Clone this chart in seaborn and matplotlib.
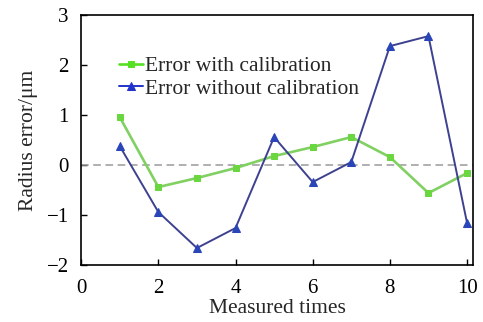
import numpy as np
import pandas as pd
import matplotlib
matplotlib.use("Agg")
import matplotlib.pyplot as plt
import seaborn as sns

# values
times = [1, 2, 3, 4, 5, 6, 7, 8, 9, 10]
with_cal = [0.96, -0.44, -0.26, -0.06, 0.18, 0.36, 0.56, 0.16, -0.56, -0.16]
without_cal = [0.38, -0.94, -1.66, -1.26, 0.56, -0.34, 0.06, 2.38, 2.58, -1.16]

sns.set_style("ticks")
plt.rcParams['font.family'] = ['Liberation Serif', 'DejaVu Serif']

df = pd.DataFrame({"t": times, "with": with_cal, "without": without_cal})

fig = plt.figure(figsize=(4.83, 3.22), dpi=100)
ax = fig.add_axes([0.168, 0.177, 0.811, 0.776])

ax.axhline(0, color="#9a9a9a", lw=1.1, ls=(0, (5, 3)), zorder=1)

sns.lineplot(data=df, x="t", y="with", ax=ax, color="#80d062", lw=1.9,
             marker="s", markersize=4.5, markerfacecolor="#6ad640",
             markeredgecolor="#6ad640", label="Error with calibration", zorder=3)
sns.lineplot(data=df, x="t", y="without", ax=ax, color="#3d4190", lw=1.4,
             marker="^", markersize=6, markerfacecolor="#2a45b8",
             markeredgecolor="#2a45b8", label="Error without calibration", zorder=4)

ax.set_xlim(0, 10.15)
ax.set_ylim(-2, 3)
ax.set_xticks([0, 2, 4, 6, 8, 10])
ax.set_yticks([-2, -1, 0, 1, 2, 3])
ax.set_yticklabels(["\u22122", "\u22121", "0", "1", "2", "3"])
ax.tick_params(direction="in", labelsize=15, length=4, width=1, colors="black")
ax.tick_params(axis="x", pad=10)
ax.tick_params(axis="y", pad=9)
for s in ax.spines.values():
    s.set_linewidth(1.2)
    s.set_color("black")
ax.set_xlabel("Measured times", fontsize=15.5, labelpad=1)
ax.set_ylabel("Radius error/\u03bcm", fontsize=15.5, labelpad=6)

leg = ax.legend(loc="upper left", bbox_to_anchor=(0.075, 0.87), frameon=False,
                fontsize=15.5, handlelength=1.1, handletextpad=0.1,
                labelspacing=0.12, borderaxespad=0)
for ln, c in zip(leg.get_lines(), ["#55e022", "#2233cc"]):
    ln.set_color(c)
    ln.set_markerfacecolor(c)
    ln.set_markeredgecolor(c)

fig.savefig("out.png", dpi=100)
